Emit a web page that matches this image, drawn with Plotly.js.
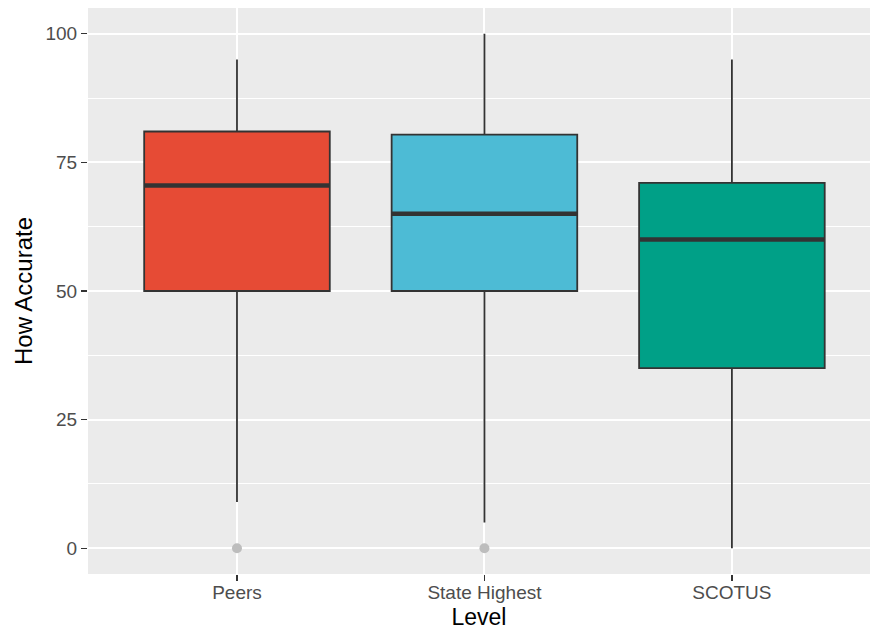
<!DOCTYPE html>
<html>
<head>
<meta charset="utf-8">
<script src="https://cdn.plot.ly/plotly-3.0.1.min.js"></script>
<style>html,body{margin:0;padding:0;background:#fff;}#chart{width:870px;height:630px;}</style>
</head>
<body>
<div id="chart"></div>
<script>
// Data
var levels = ["Peers", "State Highest", "SCOTUS"];
var lowerWhisker = [9, 5, 0];
var q1Values = [50, 50, 35];
var medianValues = [70.5, 65, 60];
var q3Values = [81, 80.4, 71];
var upperWhisker = [95, 100, 95];
var outlierLevels = ["Peers", "State Highest"];
var outlierValues = [0, 0];
var fillColors = ["#E64B35", "#4DBBD5", "#00A087"];

var BOX_WIDTH = 0.75;
var traces = [];
levels.forEach(function (lv, i) {
  traces.push({
    type: "box",
    name: lv,
    x: [lv],
    q1: [q1Values[i]],
    median: [medianValues[i]],
    q3: [q3Values[i]],
    lowerfence: [lowerWhisker[i]],
    upperfence: [upperWhisker[i]],
    boxpoints: false,
    width: BOX_WIDTH,
    whiskerwidth: 0,
    fillcolor: fillColors[i],
    line: {color: "#333333", width: 1.8},
    hoverinfo: "skip",
    showlegend: false
  });
});
traces.push({
  type: "scatter",
  mode: "markers",
  x: outlierLevels,
  y: outlierValues,
  marker: {color: "#BDBDBD", size: 10, line: {width: 0}},
  hoverinfo: "skip",
  showlegend: false
});

// thicker median lines, like ggplot's fattened median
var shapes = medianValues.map(function (m, i) {
  return {
    type: "line", xref: "x", yref: "y",
    x0: i - BOX_WIDTH / 2, x1: i + BOX_WIDTH / 2,
    y0: m, y1: m,
    line: {color: "#333333", width: 4.5},
    layer: "above"
  };
});

var layout = {
  width: 870, height: 630,
  margin: {l: 88, r: 0, t: 8, b: 56, pad: 0},
  paper_bgcolor: "#ffffff",
  plot_bgcolor: "#EBEBEB",
  font: {family: "Liberation Sans, Arial, sans-serif", color: "#4D4D4D", size: 19},
  boxmode: "overlay",
  shapes: shapes,
  xaxis: {
    type: "category",
    categoryorder: "array",
    categoryarray: levels,
    range: [-0.602, 2.558],
    showgrid: true, gridcolor: "#ffffff", gridwidth: 2,
    zeroline: false, showline: false,
    ticks: "outside", ticklen: 6, tickwidth: 1.5, tickcolor: "#333333",
    ticklabelstandoff: -5,
    tickfont: {size: 19, color: "#4D4D4D"},
    title: {text: "Level", font: {size: 23, color: "#000000"}, standoff: 10},
    automargin: false
  },
  yaxis: {
    range: [-5, 105],
    tickvals: [0, 25, 50, 75, 100],
    ticktext: ["0", "25", "50", "75", "100"],
    showgrid: true, gridcolor: "#ffffff", gridwidth: 2,
    minor: {tickvals: [12.5, 37.5, 62.5, 87.5], showgrid: true, gridcolor: "#ffffff", gridwidth: 1, ticks: ""},
    zeroline: false, showline: false,
    ticks: "outside", ticklen: 6, tickwidth: 1.5, tickcolor: "#333333",
    tickfont: {size: 19, color: "#4D4D4D"},
    title: {text: "How Accurate", font: {size: 24, color: "#000000"}, standoff: 6},
    automargin: false
  }
};

Plotly.newPlot("chart", traces, layout, {displayModeBar: false, staticPlot: true});
</script>
</body>
</html>
